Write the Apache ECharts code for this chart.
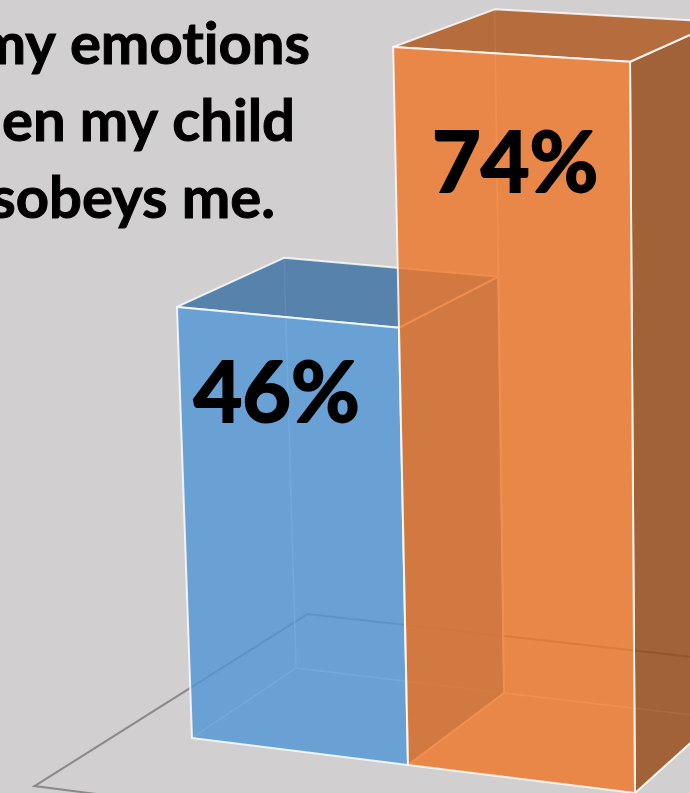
<!DOCTYPE html>
<html>
<head>
<meta charset="utf-8">
<style>html,body{margin:0;padding:0;background:#d1cfd0}#chart{width:690px;height:793px}</style>
<script src="https://cdn.jsdelivr.net/npm/echarts@6/dist/echarts.min.js"></script>
</head>
<body>
<div id="chart"></div>
<script>
// Survey result shown as two translucent 3D columns on a floor plane.
const barSlots = [0, 1];
const barValues = [46, 74];
// The non-joiner keeps "t" and "i" as separate glyphs in "emotions".
const headingLines = ['my emot\u200Cions', 'when my child', 'disobeys me.'];

// Face colours per column, plus where the value label sits on the front face.
const barLooks = [
  { front: '#5396d6', top: '#3c70a4', side: '#3c70a4', labelAcross: 0.445, labelDrop: 8.1 },
  { front: '#ee7629', top: '#af571c', side: '#954914', labelAcross: 0.515, labelDrop: 10.7 }
];
const faceOpacity = 0.82;

// Oblique camera: floor rows at the front and back of the columns, and how far
// one percentage point rises on screen at each of them.
function frontRow(c) { return [192 + 216 * c + 5.5 * c * (c - 1), 738 + 27 * c + 0.5 * c * (c - 1)]; }
function backRow(c) { return [296 + 208 * c + 3 * c * (c - 1), 668 + 25 * c]; }
function frontRise(c) { return [-0.316 + 0.126 * c, 9.07 + 0.11 * c + 0.02 * c * c]; }
function backRise(c) { return [-0.252 + 0.1325 * c, 8.63 + 0.115 * c + 0.015 * c * c]; }

function project(api, c, d, v) {
  const f = frontRow(c), b = backRow(c), fr = frontRise(c), br = backRise(c);
  const k = v / (1 - 0.0007 * v);
  const x = f[0] + (b[0] - f[0]) * d + (fr[0] + (br[0] - fr[0]) * d) * k;
  const y = f[1] + (b[1] - f[1]) * d - (fr[1] + (br[1] - fr[1]) * d) * k;
  return api.coord([x, y]);
}

function face(points, fill) {
  return {
    type: 'polygon',
    shape: { points: points },
    style: { fill: fill, opacity: faceOpacity, stroke: '#fff', lineWidth: 2, lineJoin: 'round' }
  };
}

function renderBar(params, api) {
  const c = api.value(0), v = api.value(1);
  const look = barLooks[params.dataIndex];
  const p = (dc, d, h) => project(api, c + dc, d, h);
  const backTopLeft = p(0, 1, v), backTopRight = p(1, 1, v), backFloorLeft = p(0, 1, 0), backFloorRight = p(1, 1, 0);
  const inner = {
    type: 'polyline',
    shape: { points: [backTopLeft, backFloorLeft, p(0, 0, 0)] },
    style: { fill: null, stroke: '#fff', lineWidth: 1.5 }
  };
  const innerBack = {
    type: 'polyline',
    shape: { points: [backFloorLeft, backFloorRight, p(1, 0, 0)] },
    style: { fill: null, stroke: '#fff', lineWidth: 1.5 }
  };
  const frontFace = face([p(0, 0, 0), p(1, 0, 0), p(1, 0, v), p(0, 0, v)], look.front);
  const topFace = face([p(0, 0, v), p(1, 0, v), backTopRight, backTopLeft], look.top);
  const sideFace = face([p(1, 0, 0), backFloorRight, backTopRight, p(1, 0, v)], look.side);
  const anchor = p(look.labelAcross, 0, v - look.labelDrop);
  const label = {
    type: 'text',
    z2: 10,
    style: {
      x: anchor[0], y: anchor[1],
      text: v + '%',
      fill: '#000',
      stroke: '#000',
      lineWidth: 2,
      font: 'bold 84px Lato',
      align: 'center',
      verticalAlign: 'middle'
    }
  };
  return { type: 'group', children: [inner, innerBack, sideFace, topFace, frontFace, label] };
}

function renderFloor(params, api) {
  const dF = -0.82, dB = 1.67, cFront = -0.34, cBack = -0.29, cR = 3.5;
  return {
    type: 'polyline',
    shape: { points: [project(api, cR, dF, 0), project(api, cFront, dF, 0), project(api, cBack, dB, 0), project(api, cR, dB, 0)] },
    style: { fill: null, stroke: '#8a8a8a', lineWidth: 2 }
  };
}

const headingEnds = [311, 296, 276];
const headingTops = [10, 87, 164];

const chart = echarts.init(document.getElementById('chart'), null, { renderer: 'canvas' });
chart.setOption({
  backgroundColor: '#d1cfd0',
  animation: false,
  title: headingLines.map((line, i) => ({
    text: line,
    right: 690 - headingEnds[i],
    top: headingTops[i],
    padding: 0,
    textStyle: {
      fontFamily: 'Lato', fontWeight: 'bold', fontSize: 58, color: '#000', lineHeight: 70,
      textBorderColor: '#000', textBorderWidth: 1
    }
  })),
  grid: { left: 0, right: 0, top: 0, bottom: 0 },
  xAxis: { type: 'value', min: 0, max: 690, show: false },
  yAxis: { type: 'value', min: 0, max: 793, inverse: true, show: false },
  series: [
    { type: 'custom', silent: true, clip: false, data: [[0, 0]], renderItem: renderFloor },
    { type: 'custom', silent: true, clip: false, data: barSlots.map((s, i) => [s, barValues[i]]), renderItem: renderBar }
  ]
});
</script>
</body>
</html>
